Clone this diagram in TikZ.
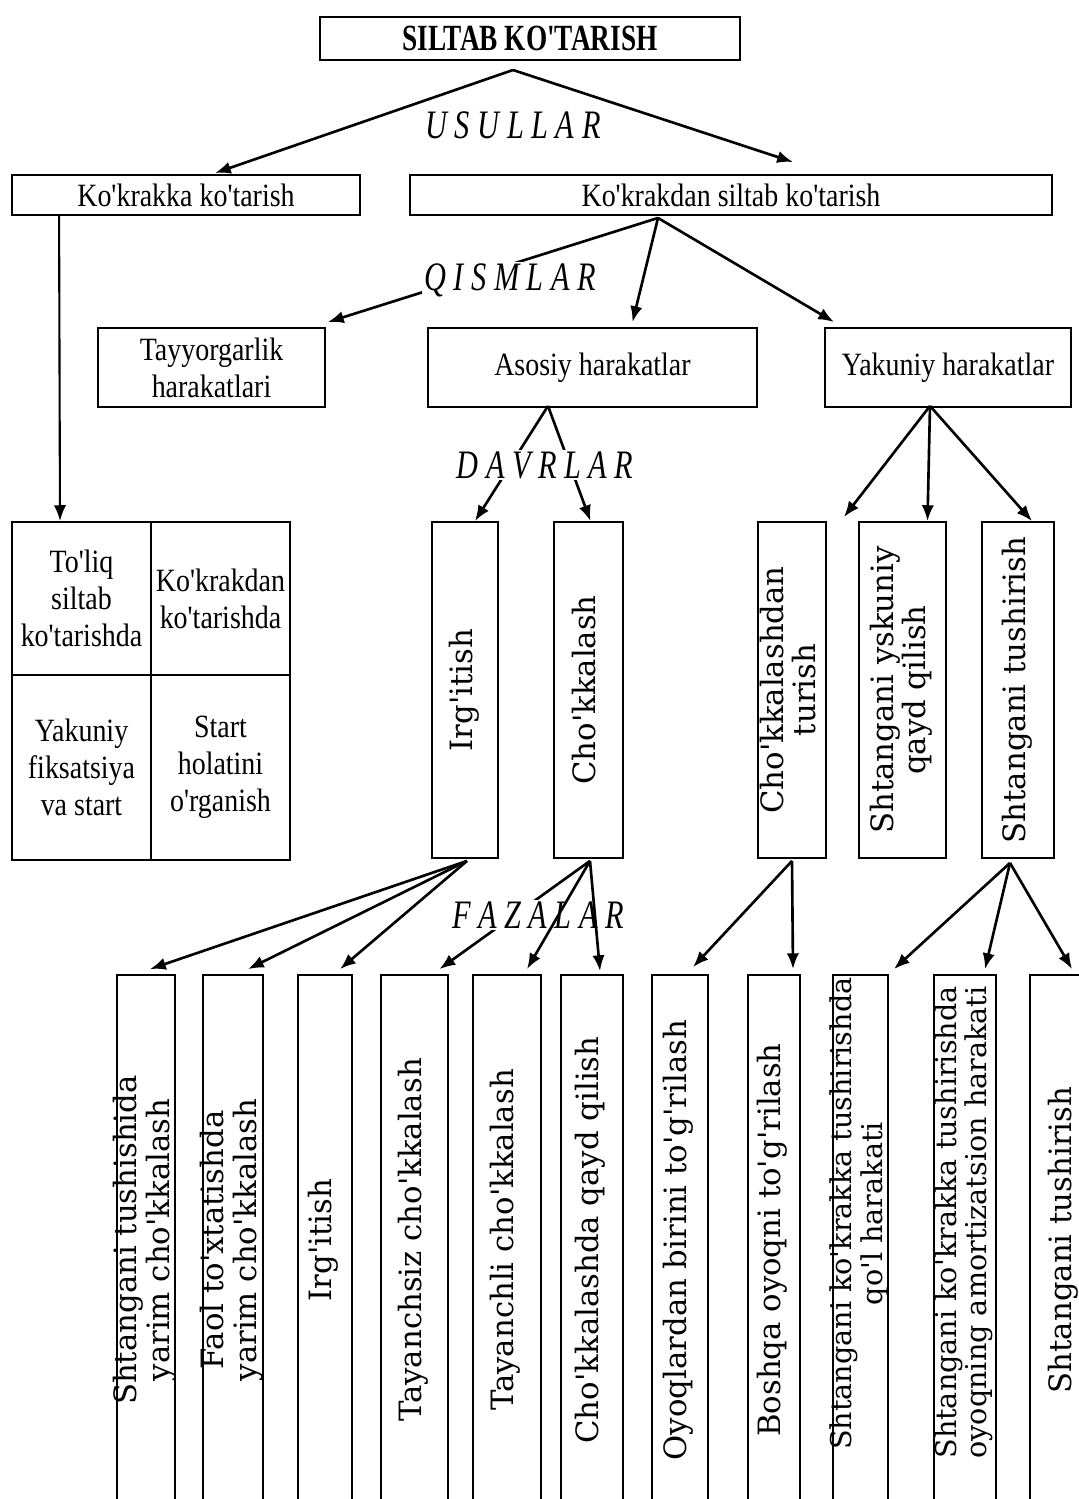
\documentclass[tikz,border=0pt]{standalone}
\usepackage{fontspec}
\usepackage{graphicx}
\usetikzlibrary{arrows.meta,calc}
\newfontfamily\condserif[FakeStretch=0.86]{Liberation Serif}
\newfontfamily\titleserif[FakeStretch=0.74]{Liberation Serif}
\newfontfamily\tagserif[FakeStretch=0.75]{Liberation Serif}
\newfontfamily\vertserif{DejaVu Serif}
\newcommand\pxu{0.2mm}
% rotated text that takes no room in its box
\newcommand\vtext[2][0pt]{\makebox[0pt]{\raisebox{#1}[0pt][0pt]{\raisebox{-.5\height}{\rotatebox{90}{\begin{tabular}{@{}c@{}}#2\end{tabular}}}}}}

\begin{document}
\begin{tikzpicture}[x=0.02cm,y=-0.02cm,
  bsz/.style 2 args={minimum width=#1*\pxu, minimum height=#2*\pxu},
  hbox/.style={draw, line width=1.1pt, inner sep=0pt, align=center, font=\condserif\fontsize{18.5}{21}\selectfont},
  vbox/.style={draw, line width=1.1pt, inner sep=0pt, font=\vertserif\fontsize{17.5}{16.5}\selectfont},
  lowbox/.style={vbox, font=\vertserif\fontsize{17.5}{18.5}\selectfont},
  tag/.style={fill=white, inner sep=1pt, font=\tagserif\itshape\fontsize{23}{23}\selectfont},
  arr/.style={line width=1.5pt, -{Latex[length=9pt,width=7pt]}}]
  \useasboundingbox (0,0) rectangle (1079,1499);
  \clip (0,0) rectangle (1079,1499);

  % top levels
  \node[hbox, bsz={420}{43}, font=\titleserif\bfseries\fontsize{21}{24}\selectfont] (title) at (530,38.5) {SILTAB KO'TARISH};
  \node[hbox, bsz={348}{40}] (kk) at (186,195) {Ko'krakka ko'tarish};
  \node[hbox, bsz={642}{40}] (ks) at (731,195) {Ko'krakdan siltab ko'tarish};
  \node[hbox, bsz={227}{79}] (tay) at (211.5,367.5) {Tayyorgarlik\\harakatlari};
  \node[hbox, bsz={329}{79}] (aso) at (592.5,367.5) {Asosiy harakatlar};
  \node[hbox, bsz={246}{79}] (yak) at (948,367.5) {Yakuniy harakatlar};

  % grid on the left
  \node[hbox, bsz={139}{153}] (g1) at (81.5,598.5) {To'liq\\siltab\\ko'tarishda};
  \node[hbox, bsz={139}{153}] (g2) at (220.5,598.5) {Ko'krakdan\\ko'tarishda};
  \node[hbox, bsz={139}{185}] (g3) at (81.5,767.5) {Yakuniy\\fiksatsiya\\va start};
  \node[hbox, bsz={139}{185}] (g4) at (220.5,767.5) {Start\\holatini\\o'rganish};

  % middle row
  \node[vbox, bsz={66}{336}] (irg) at (465,690) {\vtext{Irg'itish}};
  \node[vbox, bsz={69}{336}] (chk) at (588.5,690) {\vtext{Cho'kkalash}};
  \node[vbox, bsz={68}{336}] (cht) at (792,690) {\vtext{Cho'kkalashdan\\turish}};
  \node[vbox, bsz={87}{336}] (shq) at (902.5,690) {\vtext{Shtangani yskuniy\\qayd qilish}};
  \node[vbox, bsz={72}{336}] (sht) at (1018,690) {\vtext{Shtangani tushirish}};

  % bottom row
  \node[lowbox, bsz={58}{530}] (b1) at (146,1240) {\vtext{Shtangani tushishida\\yarim cho'kkalash}};
  \node[lowbox, bsz={60}{530}] (b2) at (233,1240) {\vtext{Faol to'xtatishda\\yarim cho'kkalash}};
  \node[lowbox, bsz={54}{530}] (b3) at (325,1240) {\vtext{Irg'itish}};
  \node[lowbox, bsz={67}{530}] (b4) at (414.5,1240) {\vtext{Tayanchsiz cho'kkalash}};
  \node[lowbox, bsz={68}{530}] (b5) at (507,1240) {\vtext{Tayanchli cho'kkalash}};
  \node[lowbox, bsz={62}{530}] (b6) at (592,1240) {\vtext{Cho'kkalashda qayd qilish}};
  \node[lowbox, bsz={56}{530}] (b7) at (680,1240) {\vtext{Oyoqlardan birini to'g'rilash}};
  \node[lowbox, bsz={52}{530}] (b8) at (774,1240) {\vtext{Boshqa oyoqni to'g'rilash}};
  \node[lowbox, bsz={55}{530}, font=\vertserif\fontsize{16.3}{18}\selectfont] (b9) at (860.5,1240) {\vtext[15pt]{Shtangani ko'krakka tushirishda\\qo'l harakati}};
  \node[lowbox, bsz={62}{530}, font=\vertserif\fontsize{16.3}{17}\selectfont] (b10) at (965,1240) {\vtext[10pt]{Shtangani ko'krakka tushirishda\\oyoqning amortizatsion harakati}};
  \node[lowbox, bsz={70}{530}] (b11) at (1065,1240) {\vtext{Shtangani tushirish}};

  % forks
  \coordinate (usfork) at (513,70);
  \coordinate (ksfork) at ($(ks.south)+(-73,2)$);
  \coordinate (asofork) at ($(aso.south)+(-44.5,-2)$);
  \coordinate (yakfork) at ($(yak.south)+(-18,-2)$);
  \coordinate (irgfork) at ($(irg.south)+(2,2)$);
  \coordinate (chkfork) at ($(chk.south)+(1.5,2)$);
  \coordinate (chtfork) at ($(cht.south)+(0,2)$);
  \coordinate (shtfork) at ($(sht.south)+(-8,4)$);

  \draw[arr] (usfork) -- ($(kk.north)+(29,-1)$);
  \draw[arr] (usfork) -- ($(ks.north)+(62,-12)$);
  \draw[arr] (ksfork) -- ($(tay.north east)+(2,-5)$);
  \draw[arr] (ksfork) -- ($(aso.north)+(40,-5)$);
  \draw[arr] (ksfork) -- ($(yak.north west)+(10,-5)$);
  \draw[arr, line width=1.2pt] ($(kk.south west)+(48,0)$) -- ($(g1.north)+(-21.5,0)$);
  \draw[arr] (asofork) -- ($(irg.north)+(10,0)$);
  \draw[arr] (asofork) -- ($(chk.north)+(2,0)$);
  \draw[arr] (yakfork) -- ($(cht.north east)+(17,-4)$);
  \draw[arr] (yakfork) -- ($(shq.north)+(25,0)$);
  \draw[arr] (yakfork) -- ($(sht.north)+(14,0)$);
  \draw[arr] (irgfork) -- ($(b1.north)+(4,-5)$);
  \draw[arr] (irgfork) -- ($(b2.north)+(15,-5)$);
  \draw[arr] (irgfork) -- ($(b3.north)+(15,-5)$);
  \draw[arr] (chkfork) -- ($(b4.north)+(25,-5)$);
  \draw[arr] (chtfork) -- ($(b7.north)+(13,-7)$);
  \draw[arr] (chtfork) -- ($(b8.north)+(19,-5)$);
  \draw[arr] (shtfork) -- ($(b9.north east)+(5,-5)$);
  \draw[arr] (shtfork) -- ($(b10.north)+(20,-5)$);
  \draw[arr] (shtfork) -- ($(b11.north)+(7,-5)$);

  % labels on the arrows
  \node[tag] (usul) at (513,125) {U S U L L A R};
  \node[tag] (qism) at (510,280) {Q I S M L A R};
  \node[tag] (davr) at (545,465) {D A V R L A R};
  \node[tag] (faza) at (538,915) {F A Z A L A R};
  \draw[arr] (chkfork) -- ($(b5.north)+(20,-5)$);
  \draw[arr] (chkfork) -- ($(b6.north)+(8,-3)$);
\end{tikzpicture}
\end{document}
